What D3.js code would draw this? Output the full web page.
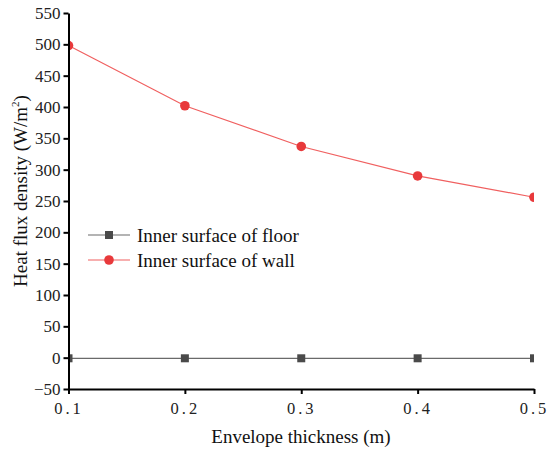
<!DOCTYPE html>
<html>
<head>
<meta charset="utf-8">
<script src="https://cdn.jsdelivr.net/npm/d3@7"></script>
<style>
  body { margin: 0; background: #fff; }
</style>
</head>
<body>
<div class="chart"></div>
<script>
// Data.
const thickness = [0.1, 0.2, 0.3, 0.4, 0.5];
const floorFlux = [-1, -1, -1, -1, -1];
const wallFlux = [498, 402, 337, 290, 256];
const xTicks = [0.1, 0.2, 0.3, 0.4, 0.5];
const yTicks = [-50, 0, 50, 100, 150, 200, 250, 300, 350, 400, 450, 500, 550];

const FONT = "'Liberation Serif', 'Times New Roman', serif";

const seriesList = [
  { name: "Inner surface of floor", values: floorFlux, color: "#4a4a4a", line: "#6a6a6a", marker: "square" },
  { name: "Inner surface of wall", values: wallFlux, color: "#e8393b", line: "#f06060", marker: "circle" },
];

// Margin convention.
const W = 550, H = 452;
const margin = { top: 13, right: 16, bottom: 63, left: 68.5 };
const width = W - margin.left - margin.right;
const height = H - margin.top - margin.bottom;

const svg = d3.select(".chart").append("svg")
  .attr("width", W)
  .attr("height", H)
  .style("font-family", FONT);

const g = svg.append("g")
  .attr("transform", `translate(${margin.left}, ${margin.top})`);

// Scales.
const xScale = d3.scaleLinear().domain([0.1, 0.5]).range([0, width]);
const yScale = d3.scaleLinear().domain([-50, 550]).range([height, 0]);

svg.append("defs").append("clipPath").attr("id", "plot-clip")
  .append("rect").attr("x", 0).attr("y", -10).attr("width", width).attr("height", height + 10);

// Draw lines and markers.
const plot = g.append("g").attr("clip-path", "url(#plot-clip)");
const line = d3.line()
  .x((d, i) => xScale(thickness[i]))
  .y((d) => yScale(d));

seriesList.forEach((s) => {
  plot.append("path")
    .datum(s.values)
    .attr("fill", "none")
    .attr("stroke", s.line)
    .attr("stroke-width", 1.2)
    .attr("d", line);

  if (s.marker === "circle") {
    plot.selectAll(null).data(s.values).enter().append("circle")
      .attr("cx", (d, i) => xScale(thickness[i]))
      .attr("cy", (d) => yScale(d))
      .attr("r", 4.8)
      .attr("fill", s.color);
  } else {
    plot.selectAll(null).data(s.values).enter().append("rect")
      .attr("x", (d, i) => xScale(thickness[i]) - 4)
      .attr("y", (d) => yScale(d) - 4)
      .attr("width", 8)
      .attr("height", 8)
      .attr("fill", s.color);
  }
});

// Draw axes.
const xAxis = d3.axisBottom(xScale)
  .tickValues(xTicks)
  .tickSize(5)
  .tickSizeOuter(0)
  .tickFormat(d3.format(".1f"));
const xAxisDraw = g.append("g")
  .attr("transform", `translate(0, ${height})`)
  .call(xAxis);
xAxisDraw.select(".domain").attr("stroke-width", 2);
xAxisDraw.selectAll(".tick line").attr("stroke-width", 2);
xAxisDraw.selectAll(".tick text")
  .style("font-family", FONT)
  .style("font-size", "16.5px")
  .style("letter-spacing", "3px")
  .attr("dy", "1.05em")
  .attr("fill", "#222");

const yAxis = d3.axisLeft(yScale)
  .tickValues(yTicks)
  .tickSize(5)
  .tickSizeOuter(0);
const yAxisDraw = g.append("g").call(yAxis);
yAxisDraw.select(".domain").attr("stroke-width", 2);
yAxisDraw.selectAll(".tick line").attr("stroke-width", 2);
yAxisDraw.selectAll(".tick text")
  .style("font-family", FONT)
  .style("font-size", "17px")
  .attr("fill", "#222")
  .text((d) => (d < 0 ? "\u2212" + Math.abs(d) : d));

// Axis titles.
svg.append("text")
  .attr("x", 301)
  .attr("y", 443)
  .attr("text-anchor", "middle")
  .style("font-family", FONT)
  .style("font-size", "19px")
  .attr("fill", "#111")
  .text("Envelope thickness (m)");

const yTitle = svg.append("text")
  .attr("transform", `translate(27, 191) rotate(-90)`)
  .attr("text-anchor", "middle")
  .style("font-family", FONT)
  .style("font-size", "19px")
  .attr("fill", "#111");
yTitle.append("tspan").text("Heat flux density (W/m");
yTitle.append("tspan").style("font-size", "11px").attr("dy", "-0.75em").text("2");
yTitle.append("tspan").attr("dy", "0.43em").text(")");

// Draw legend.
const legend = g.append("g")
  .attr("transform", `translate(19.5, ${235 - margin.top})`);
seriesList.forEach((s, i) => {
  const row = legend.append("g").attr("transform", `translate(0, ${i * 25})`);
  row.append("line")
    .attr("x1", 0).attr("x2", 42)
    .attr("stroke", s.line).attr("stroke-width", 1.2);
  if (s.marker === "circle") {
    row.append("circle").attr("cx", 21).attr("r", 4.8).attr("fill", s.color);
  } else {
    row.append("rect").attr("x", 17).attr("y", -4).attr("width", 8).attr("height", 8).attr("fill", s.color);
  }
  row.append("text")
    .attr("x", 49)
    .attr("dy", "0.35em")
    .style("font-family", FONT)
    .style("font-size", "19px")
    .attr("fill", "#111")
    .text(s.name);
});
</script>
</body>
</html>
